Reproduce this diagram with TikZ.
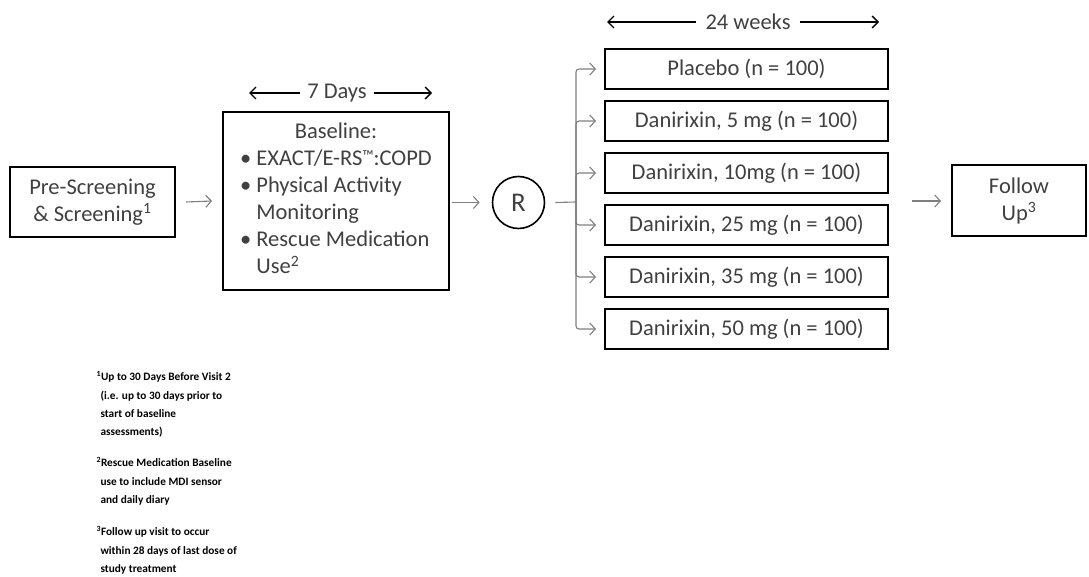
\documentclass[tikz,border=0pt]{standalone}
\usepackage{fontspec}
\setmainfont{Carlito}
\usetikzlibrary{arrows.meta,positioning}
\definecolor{inkgray}{HTML}{404040}
\definecolor{linkgray}{HTML}{7F7F7F}

\begin{document}
\begin{tikzpicture}[
  x=1pt, y=-1pt,
  font=\fontsize{22.5}{27}\selectfont,
  box/.style={draw=black, line width=2pt, text=inkgray, align=center, inner sep=2pt},
  arm/.style={box, minimum width=283pt, minimum height=40pt},
  fl/.style={-{Straight Barb[length=5.5pt,width=12pt]}, line width=1.1pt, draw=linkgray, rounded corners=3pt},
  span/.style={-{Straight Barb[length=6pt,width=12pt]}, line width=1.3pt, draw=black},
  lbl/.style={text=inkgray, inner sep=7pt},
  note/.style={anchor=north west, align=left, font=\fontsize{11.3}{18.4}\selectfont\bfseries},
]
\useasboundingbox (0,0) rectangle (1089,577);

\node[box, minimum width=165pt, minimum height=70pt] (screen) at (92.5,202)
  {Pre-Screening\\\& Screening\textsuperscript{1}};
\node[box, minimum width=226pt, minimum height=178pt] (base) at (336,201)
  {\def\arraystretch{1.0}\begin{tabular}{@{}l@{\hspace{5pt}}l@{}}
   \multicolumn{2}{c}{Baseline:}\\
   • & EXACT/E-RS\raisebox{4pt}{\fontsize{16}{16}\selectfont™}:COPD\\
   • & Physical Activity\\
     & Monitoring\\
   • & Rescue Medication\\
     & Use\textsuperscript{2}
   \end{tabular}};
\node[circle, draw=black, line width=1.6pt, minimum size=52pt, inner sep=0pt, text=inkgray,
  font=\fontsize{27}{30}\selectfont] (rand) at (518.5,202.5) {R};
\node[box, minimum width=134pt, minimum height=71pt] (follow) at (1019,201)
  {Follow\\Up\textsuperscript{3}};

% treatment arms
\foreach \txt [count=\i] in {Placebo (n = 100), {Danirixin, 5 mg (n = 100)}, {Danirixin, 10mg (n = 100)},
    {Danirixin, 25 mg (n = 100)}, {Danirixin, 35 mg (n = 100)}, {Danirixin, 50 mg (n = 100)}}
  \node[arm] (arm\i) at (746.5,17+52*\i) {\txt};

\coordinate (split) at (576,202);
\coordinate (exit) at (912,201);
\draw[fl] ([xshift=10pt]screen.east) -- ([xshift=-10pt]base.west);
\draw[fl] ([xshift=2pt]base.east |- rand.west) -- ([xshift=-12pt]rand.west);
\draw[linkgray, line width=1.1pt] ([xshift=10pt]rand.east) -- (split);
\foreach \i in {1,...,6}
  \draw[fl] (split) |- ([xshift=-8pt]arm\i.west);
\draw[fl] (exit) -- ([xshift=-10pt]follow.west);

% time spans
\node[lbl] (days) at (337,93) {7 Days};
\coordinate (daysL) at (249,93);
\coordinate (daysR) at (432,93);
\draw[span] (days.west) -- (daysL);
\draw[span] (days.east) -- (daysR);
\node[lbl, inner sep=9pt] (weeks) at (748,22) {24 weeks};
\coordinate (weeksL) at (607,22);
\coordinate (weeksR) at (879,22);
\draw[span] (weeks.west) -- (weeksL);
\draw[span] (weeks.east) -- (weeksR);

% footnotes
\node[note] (fn1) at (93,368) {\textsuperscript{1}Up to 30 Days Before Visit 2\\
  \hspace*{4pt}(i.e. up to 30 days prior to\\\hspace*{4pt}start of baseline\\\hspace*{4pt}assessments)};
\node[note] (fn2) at (93,454) {\textsuperscript{2}Rescue Medication Baseline\\
  \hspace*{4pt}use to include MDI sensor\\\hspace*{4pt}and daily diary};
\node[note] (fn3) at (93,523) {\textsuperscript{3}Follow up visit to occur\\
  \hspace*{4pt}within 28 days of last dose of\\\hspace*{4pt}study treatment};
\end{tikzpicture}
\end{document}
